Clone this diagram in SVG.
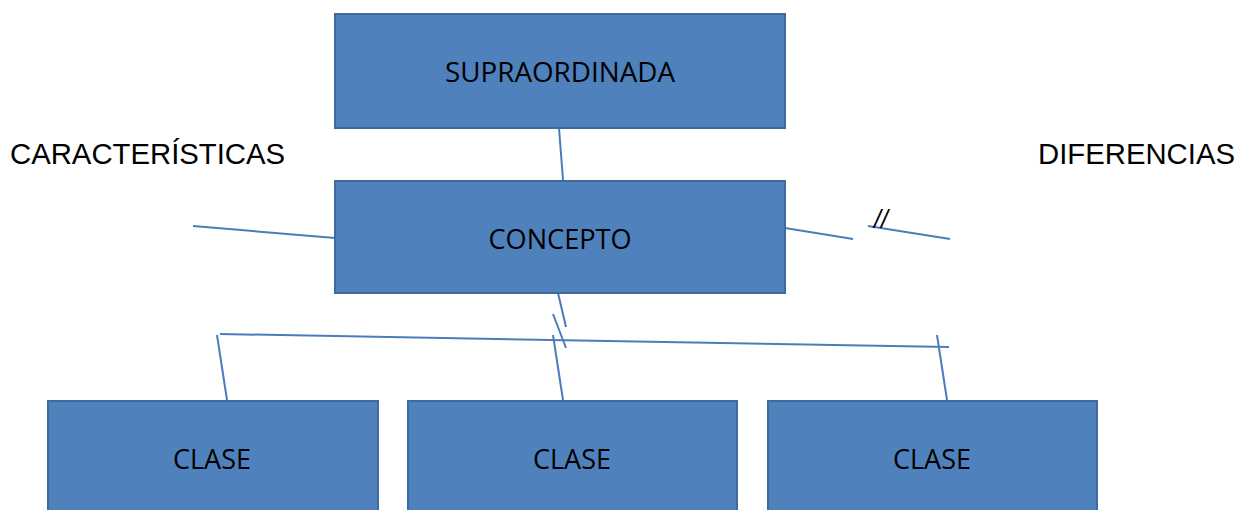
<svg xmlns="http://www.w3.org/2000/svg" width="1237" height="510" viewBox="0 0 1237 510">
<style>
.box{fill:#4F81BD;stroke:#3E6A9E;stroke-width:2}
.bt{font-family:"Open Sans","Liberation Sans",sans-serif;font-size:27px;fill:#000;text-anchor:middle}
.lbl{font-family:"Liberation Sans",Arial,sans-serif;font-size:29.3px;fill:#000}
.ln{stroke:#4A7EBB;stroke-width:2;fill:none}
</style>
<rect width="1237" height="510" fill="#fff"/>
<g id="connectors">
<line class="ln" x1="559" y1="128" x2="563" y2="180"/>
<line class="ln" x1="193" y1="226" x2="335" y2="238"/>
<line class="ln" x1="785" y1="228" x2="853" y2="239"/>
<line class="ln" x1="868" y1="226" x2="950" y2="239"/>
<line class="ln" x1="558" y1="293" x2="566" y2="327"/>
<line class="ln" x1="553" y1="314" x2="566" y2="348"/>
<line class="ln" x1="220" y1="334" x2="949" y2="347"/>
<line class="ln" x1="217" y1="335" x2="227" y2="400"/>
<line class="ln" x1="553" y1="335" x2="563" y2="400"/>
<line class="ln" x1="937" y1="335" x2="947" y2="400"/>
<text x="874" y="228" font-family="'Liberation Sans',Arial,sans-serif" font-size="25" fill="#000" font-style="italic">//</text>
</g>
<g id="supraordinada">
<rect class="box" x="335" y="14" width="450" height="114"/>
<text class="bt" x="560" y="82" textLength="230" lengthAdjust="spacingAndGlyphs">SUPRAORDINADA</text>
</g>
<g id="concepto">
<rect class="box" x="335" y="181" width="450" height="112"/>
<text class="bt" x="560" y="249" textLength="143" lengthAdjust="spacingAndGlyphs">CONCEPTO</text>
</g>
<g id="clase1">
<rect class="box" x="48" y="401" width="330" height="120"/>
<text class="bt" x="212" y="469" textLength="78" lengthAdjust="spacingAndGlyphs">CLASE</text>
</g>
<g id="clase2">
<rect class="box" x="408" y="401" width="329" height="120"/>
<text class="bt" x="572" y="469" textLength="78" lengthAdjust="spacingAndGlyphs">CLASE</text>
</g>
<g id="clase3">
<rect class="box" x="768" y="401" width="329" height="120"/>
<text class="bt" x="932" y="469" textLength="78" lengthAdjust="spacingAndGlyphs">CLASE</text>
</g>
<g id="caracteristicas">
<text class="lbl" x="10" y="164">CARACTERÍSTICAS</text>
</g>
<g id="diferencias">
<text class="lbl" x="1038" y="164">DIFERENCIAS</text>
</g>
</svg>
